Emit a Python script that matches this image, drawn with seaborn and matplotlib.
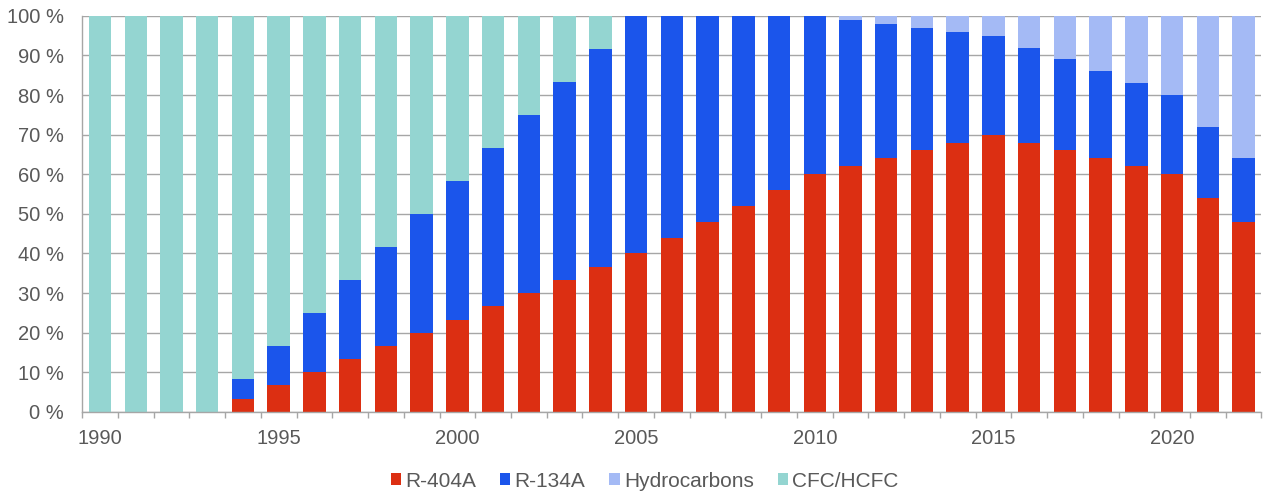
import numpy as np
import pandas as pd
import matplotlib.pyplot as plt
import seaborn as sns
from matplotlib.patches import Patch

# Share of refrigerants (%)
years = list(range(1990, 2023))
r404a = [0, 0, 0, 0, 3.3, 6.7, 10, 13.3, 16.7, 20, 23.3, 26.7, 30, 33.3, 36.7,
         40, 44, 48, 52, 56, 60, 62, 64, 66, 68, 70, 68, 66, 64, 62, 60, 54, 48]
r134a = [0, 0, 0, 0, 5, 10, 15, 20, 25, 30, 35, 40, 45, 50, 55,
         60, 56, 52, 48, 44, 40, 37, 34, 31, 28, 25, 24, 23, 22, 21, 20, 18, 16]
hydrocarbons = [0] * 21 + [1, 2, 3, 4, 5, 8, 11, 14, 17, 20, 28, 36]
cfc_hcfc = [100, 100, 100, 100, 91.7, 83.3, 75, 66.7, 58.3, 50, 41.7, 33.3, 25, 16.7, 8.3,
            0, 0, 0, 0, 0, 0, 0, 0, 0, 0, 0, 0, 0, 0, 0, 0, 0, 0]

series = ["R-404A", "R-134A", "Hydrocarbons", "CFC/HCFC"]
colors = ["#DC2F12", "#1B55EB", "#A4BAF5", "#94D5D1"]

df = pd.DataFrame({"year": [str(y) for y in years],
                   "R-404A": r404a, "R-134A": r134a,
                   "Hydrocarbons": hydrocarbons, "CFC/HCFC": cfc_hcfc})
cum = df[series].cumsum(axis=1)

plt.rcParams["font.family"] = ["Liberation Sans", "DejaVu Sans"]
text_color = "#595959"
grid_color = "#A6A6A6"

fig, ax = plt.subplots(figsize=(12.64, 4.95), dpi=100)
fig.subplots_adjust(left=0.065, right=0.998, bottom=0.168, top=0.968)

# stacked bars: draw cumulative totals from top layer down
for name, col in reversed(list(zip(series, colors))):
    sns.barplot(x=df["year"], y=cum[name], color=col, saturation=1,
                width=0.63, ax=ax, errorbar=None)

ax.set_xlim(-0.5, len(years) - 0.5)
ax.set_ylim(0, 100)
ax.set_yticks(range(0, 101, 10))
ax.set_yticklabels([f"{v} %" for v in range(0, 101, 10)])
ax.yaxis.grid(True, color=grid_color, linewidth=1)
ax.set_axisbelow(True)

major = [i for i, y in enumerate(years) if y % 5 == 0]
ax.set_xticks(major)
ax.set_xticklabels([str(years[i]) for i in major])
ax.set_xticks(np.arange(-0.5, len(years)), minor=True)
ax.tick_params(axis="x", which="major", length=0, pad=12, labelsize=14.5, labelcolor=text_color)
ax.tick_params(axis="x", which="minor", length=4, color=grid_color, width=1)
ax.tick_params(axis="y", length=0, pad=13, labelsize=14.5, labelcolor=text_color)

ax.set_xlabel("")
ax.set_ylabel("")
for s in ["top", "right"]:
    ax.spines[s].set_visible(False)
for s in ["left", "bottom"]:
    ax.spines[s].set_color(grid_color)
    ax.spines[s].set_linewidth(1)

handles = [Patch(facecolor=c, edgecolor="none", label=n) for n, c in zip(series, colors)]
fig.legend(handles=handles, loc="center", bbox_to_anchor=(0.51, 0.028), ncol=4,
           frameon=False, fontsize=15, handlelength=0.5, handleheight=0.5,
           handletextpad=0.2, columnspacing=1.15, labelcolor=text_color)

plt.savefig("out.png", dpi=100)
